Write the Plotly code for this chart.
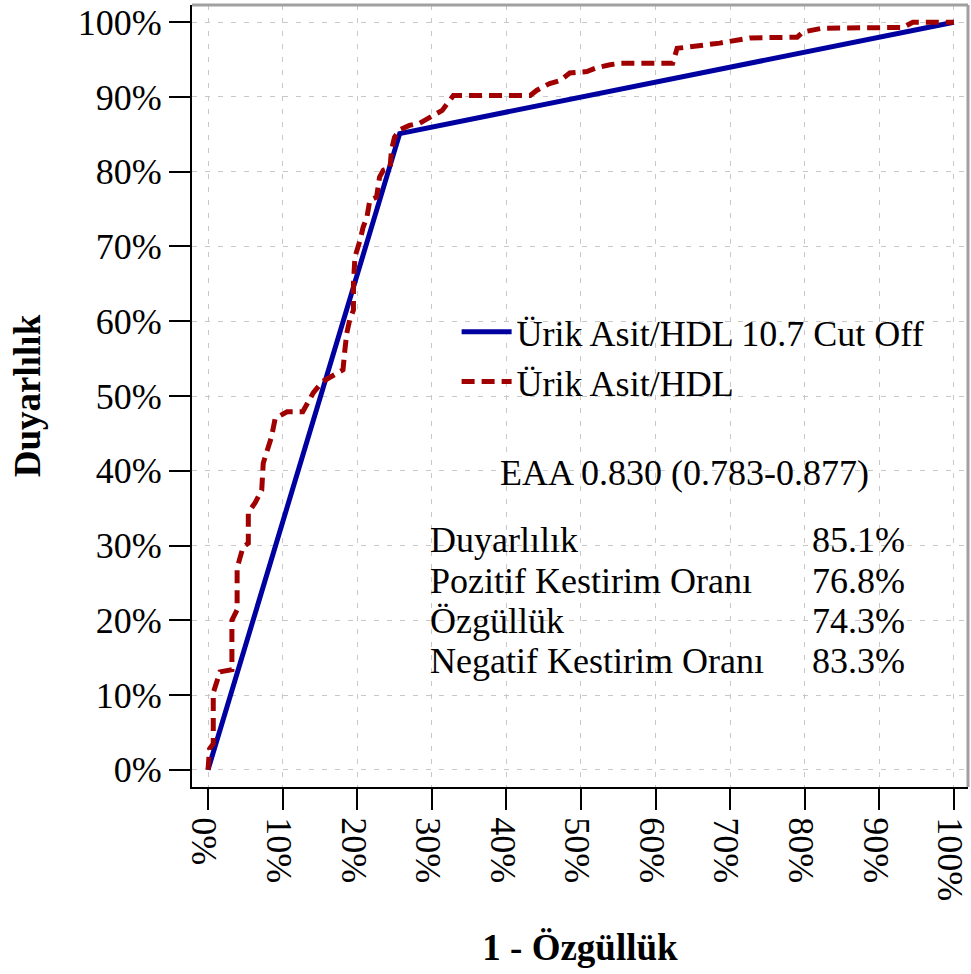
import plotly.graph_objects as go

# Cut-off line (1 - specificity, sensitivity), in %
cut_x = [0, 25.7, 100]
cut_y = [0, 85.1, 100]

# ROC curve (1 - specificity, sensitivity), in %
roc_x = [0, 0.2, 0.7, 0.7, 1.6, 3.2, 3.2, 3.9, 3.9, 4.7, 5.4, 5.4, 6.3, 7.2, 7.4, 8.0, 8.5, 9.0,
         10.6, 12.7, 14.1, 15.3, 16.8, 18.1, 18.3, 18.6, 19.0, 19.5, 19.5, 19.7, 20.4, 20.8,
         21.3, 21.7, 22.6, 23.0, 23.5, 24.4, 24.6, 25.0, 25.7, 27.0, 28.4, 29.8, 31.4, 32.9,
         43.2, 44.1, 45.8, 47.2, 48.5, 50.8, 52.1, 53.9, 55.2, 62.3, 62.9, 68.6, 72.7, 79.0,
         79.8, 82.4, 93.2, 94.5, 100]
roc_y = [0, 2.8, 3.5, 10.3, 13.1, 13.4, 20.0, 21.4, 27.0, 29.8, 30.3, 34.4, 35.7, 37.4, 41.0,
         42.8, 44.5, 47.0, 47.9, 47.9, 50.4, 51.9, 52.8, 53.5, 55.7, 58.4, 60.2, 61.5, 65.1,
         68.6, 70.9, 72.6, 73.9, 76.2, 76.6, 79.3, 80.2, 80.5, 82.9, 84.6, 85.6, 86.2, 86.5,
         87.3, 88.2, 90.2, 90.2, 90.9, 91.8, 92.2, 93.2, 93.4, 93.9, 94.3, 94.5, 94.5, 96.5,
         97.2, 97.9, 98.0, 98.7, 99.2, 99.3, 100, 100]

tick_vals = [0, 10, 20, 30, 40, 50, 60, 70, 80, 90, 100]
tick_text = ["0%", "10%", "20%", "30%", "40%", "50%", "60%", "70%", "80%", "90%", "100%"]

series_names = ["Ürik Asit/HDL 10.7 Cut Off", "Ürik Asit/HDL"]
auc_text = "EAA 0.830 (0.783-0.877)"
stat_labels = ["Duyarlılık", "Pozitif Kestirim Oranı", "Özgüllük", "Negatif Kestirim Oranı"]
stat_values = ["85.1%", "76.8%", "74.3%", "83.3%"]

FONT = "Liberation Serif"
BLUE = "#0000a0"
RED = "#a00000"
FS = 36

fig = go.Figure()
fig.add_trace(go.Scatter(x=cut_x, y=cut_y, mode="lines", name=series_names[0],
                         line=dict(color=BLUE, width=5)))
fig.add_trace(go.Scatter(x=roc_x, y=roc_y, mode="lines", name=series_names[1],
                         line=dict(color=RED, width=5, dash="13px,7px")))

annotations = [dict(x=0.635, y=0.4015, xref="paper", yref="paper", text=auc_text,
                    showarrow=False, xanchor="center", yanchor="middle",
                    font=dict(family=FONT, size=FS, color="black"))]
row_y = [0.316, 0.264, 0.212, 0.161]
for lab, val, ry in zip(stat_labels, stat_values, row_y):
    annotations.append(dict(x=0.304, y=ry, xref="paper", yref="paper", text=lab,
                            showarrow=False, xanchor="left", yanchor="middle",
                            font=dict(family=FONT, size=FS, color="black")))
    annotations.append(dict(x=0.922, y=ry, xref="paper", yref="paper", text=val,
                            showarrow=False, xanchor="right", yanchor="middle",
                            font=dict(family=FONT, size=FS, color="black")))

axis_common = dict(
    tickvals=tick_vals, ticktext=tick_text,
    showline=True, linecolor="black", linewidth=2,
    ticks="outside", ticklen=21, tickwidth=2, tickcolor="black",
    showgrid=True, gridcolor="#c8c8c8", gridwidth=1, griddash="5px,8px",
    zeroline=False, ticklabeloverflow="allow", automargin=False,
    tickfont=dict(family=FONT, size=FS, color="black"),
)

fig.update_layout(
    width=971, height=974,
    margin=dict(l=192, r=3, t=5, b=187),
    plot_bgcolor="white", paper_bgcolor="white",
    font=dict(family=FONT, color="black"),
    xaxis=dict(range=[-2.15, 101.9], tickangle=90, ticklabelshift=-4,
               title=dict(text="<b>1 - Özgüllük</b>", standoff=34,
                          font=dict(family=FONT, size=37, color="black")),
               **axis_common),
    yaxis=dict(range=[-2.3, 102.3],
               title=dict(text="<b>Duyarlılık</b>", standoff=26,
                          font=dict(family=FONT, size=37, color="black")),
               **axis_common),
    legend=dict(x=0.341, y=0.55, xanchor="left", yanchor="middle",
                bgcolor="rgba(0,0,0,0)", borderwidth=0, itemwidth=50,
                tracegroupgap=0,
                font=dict(family=FONT, size=FS, color="black")),
    annotations=annotations,
    shapes=[
        dict(type="line", xref="paper", yref="paper", x0=0, x1=1, y0=1, y1=1,
             line=dict(color="#a0a0a0", width=3)),
        dict(type="line", xref="paper", yref="paper", x0=1, x1=1, y0=0, y1=1,
             line=dict(color="#a0a0a0", width=3)),
    ],
)

fig.write_html("out.html", config={"displayModeBar": False},
               post_script="document.body.style.margin='0';document.body.style.overflow='hidden';")
